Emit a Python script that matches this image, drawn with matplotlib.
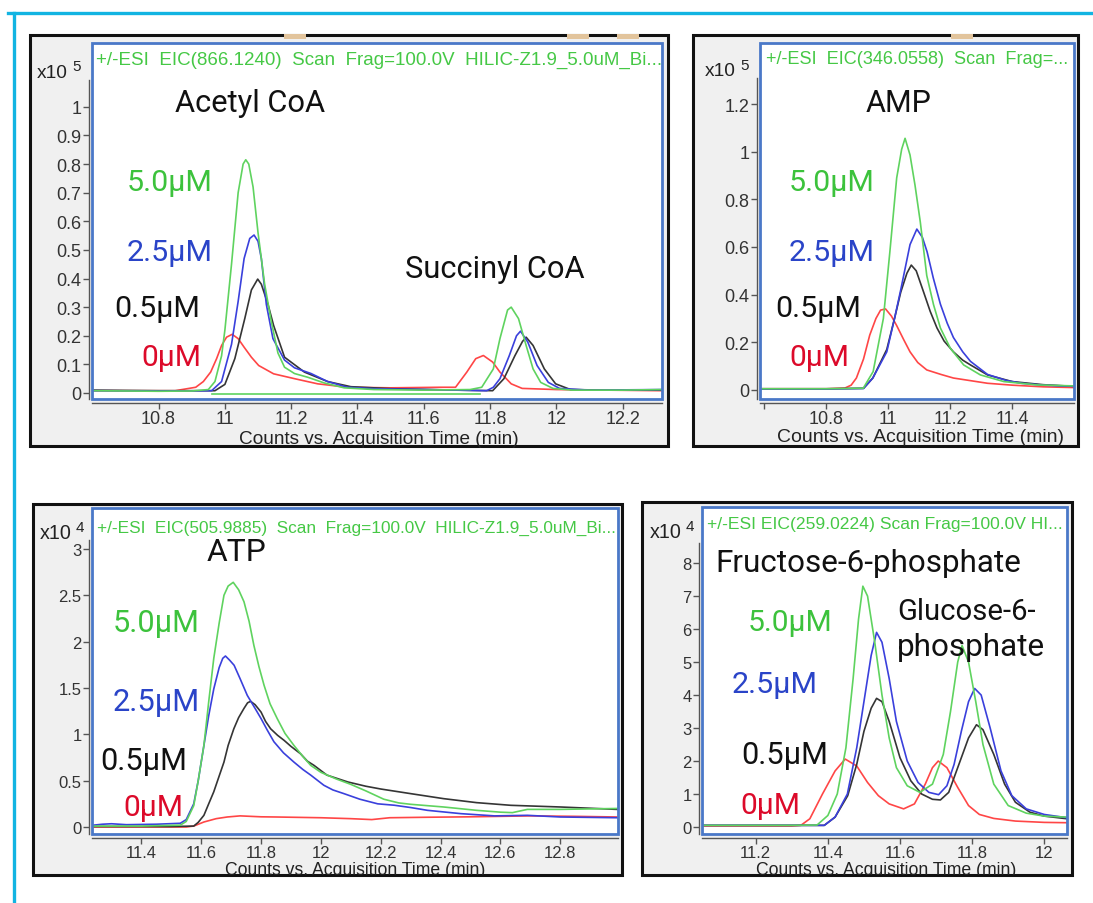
import matplotlib
matplotlib.use("Agg")
import matplotlib.pyplot as plt
from matplotlib.patches import Rectangle
from matplotlib.lines import Line2D
from matplotlib import font_manager

# ------------------------------------------------------------------ data
# Panel 1 : Acetyl CoA / Succinyl CoA  (counts x10^5 vs. time, min)
p1_green_t = [10.60, 10.80, 10.90, 10.95, 10.97, 10.99, 11.00, 11.02, 11.04, 11.055,
              11.063, 11.072, 11.085, 11.10, 11.12, 11.14, 11.16, 11.18, 11.21, 11.25,
              11.30, 11.36, 11.45, 11.60, 11.74, 11.775, 11.81, 11.83, 11.853, 11.864,
              11.886, 11.909, 11.93, 11.953, 11.99, 12.05, 12.20, 12.32]
p1_green_v = [0.008, 0.006, 0.007, 0.012, 0.04, 0.13, 0.22, 0.45, 0.70, 0.80,
              0.815, 0.80, 0.72, 0.56, 0.38, 0.25, 0.14, 0.09, 0.068, 0.055,
              0.035, 0.018, 0.012, 0.010, 0.012, 0.02, 0.084, 0.19, 0.29, 0.30,
              0.26, 0.166, 0.084, 0.037, 0.016, 0.010, 0.010, 0.012]
p1_green_flat_t = [10.96, 11.77]
p1_green_flat_v = [-0.003, -0.003]
p1_blue_t = [10.60, 10.80, 10.96, 10.99, 11.02, 11.04, 11.058, 11.075, 11.088, 11.10,
             11.11, 11.125, 11.145, 11.18, 11.21, 11.26, 11.31, 11.37, 11.45, 11.60,
             11.79, 11.81, 11.83, 11.858, 11.88, 11.892, 11.914, 11.942, 11.976, 12.01,
             12.10, 12.32]
p1_blue_v = [0.008, 0.007, 0.008, 0.04, 0.17, 0.32, 0.47, 0.54, 0.552, 0.53,
             0.47, 0.31, 0.19, 0.115, 0.088, 0.068, 0.04, 0.02, 0.015, 0.012,
             0.008, 0.02, 0.05, 0.13, 0.20, 0.216, 0.178, 0.096, 0.037, 0.016,
             0.010, 0.012]
p1_black_t = [10.60, 10.80, 10.97, 11.00, 11.03, 11.06, 11.08, 11.099, 11.11, 11.13,
              11.147, 11.18, 11.24, 11.31, 11.38, 11.50, 11.70, 11.808, 11.842, 11.875,
              11.898, 11.909, 11.93, 11.964, 11.998, 12.043, 12.15, 12.32]
p1_black_v = [0.010, 0.008, 0.008, 0.03, 0.12, 0.26, 0.36, 0.398, 0.38, 0.31,
              0.236, 0.125, 0.073, 0.04, 0.022, 0.015, 0.010, 0.008, 0.05, 0.13,
              0.18, 0.195, 0.166, 0.084, 0.032, 0.012, 0.010, 0.010]
p1_red_t = [10.60, 10.85, 10.912, 10.935, 10.957, 10.975, 10.99, 11.005, 11.022, 11.04,
            11.058, 11.08, 11.102, 11.147, 11.214, 11.28, 11.37, 11.50, 11.65, 11.696,
            11.73, 11.757, 11.78, 11.808, 11.83, 11.864, 11.897, 12.00, 12.15, 12.32]
p1_red_v = [0.008, 0.008, 0.02, 0.04, 0.073, 0.12, 0.166, 0.195, 0.205, 0.19,
            0.16, 0.125, 0.096, 0.067, 0.049, 0.032, 0.02, 0.018, 0.02, 0.02,
            0.073, 0.12, 0.131, 0.108, 0.073, 0.032, 0.016, 0.012, 0.010, 0.008]
p1_xticks = [10.8, 11.0, 11.2, 11.4, 11.6, 11.8, 12.0, 12.2]
p1_yticks = [0, 0.1, 0.2, 0.3, 0.4, 0.5, 0.6, 0.7, 0.8, 0.9, 1.0]

# Panel 2 : AMP (counts x10^5)
p2_green_t = [10.586, 10.80, 10.919, 10.951, 10.984, 11.005, 11.027, 11.043, 11.054, 11.07,
              11.086, 11.103, 11.124, 11.146, 11.168, 11.20, 11.243, 11.297, 11.373, 11.48,
              11.599]
p2_green_v = [0.005, 0.005, 0.007, 0.077, 0.30, 0.58, 0.89, 1.01, 1.056, 0.986,
              0.86, 0.706, 0.48, 0.357, 0.26, 0.175, 0.105, 0.063, 0.035, 0.021,
              0.017]
p2_blue_t = [10.586, 10.80, 10.92, 10.95, 10.995, 11.02, 11.04, 11.07, 11.092, 11.11,
             11.125, 11.145, 11.168, 11.19, 11.21, 11.24, 11.265, 11.32, 11.38, 11.43,
             11.50, 11.599]
p2_blue_v = [0.004, 0.004, 0.006, 0.05, 0.16, 0.30, 0.42, 0.61, 0.675, 0.64,
             0.58, 0.47, 0.36, 0.28, 0.22, 0.16, 0.12, 0.065, 0.04, 0.028,
             0.02, 0.015]
p2_black_t = [10.586, 10.80, 10.92, 10.95, 10.995, 11.02, 11.04, 11.06, 11.074, 11.09,
              11.114, 11.135, 11.157, 11.18, 11.21, 11.24, 11.265, 11.32, 11.40, 11.50,
              11.599]
p2_black_v = [0.005, 0.005, 0.007, 0.05, 0.17, 0.30, 0.41, 0.49, 0.524, 0.50,
              0.41, 0.33, 0.26, 0.205, 0.16, 0.125, 0.105, 0.063, 0.035, 0.022,
              0.015]
p2_red_t = [10.586, 10.80, 10.86, 10.88, 10.897, 10.92, 10.94, 10.96, 10.975, 10.991,
            11.01, 11.027, 11.05, 11.07, 11.095, 11.124, 11.17, 11.21, 11.26, 11.32,
            11.40, 11.50, 11.599]
p2_red_v = [0.005, 0.005, 0.008, 0.02, 0.05, 0.13, 0.23, 0.30, 0.335, 0.34,
            0.31, 0.27, 0.21, 0.16, 0.115, 0.084, 0.065, 0.05, 0.04, 0.028,
            0.02, 0.013, 0.010]
p2_xticks = [10.6, 10.8, 11.0, 11.2, 11.4]
p2_xticklabels = ["", "10.8", "11", "11.2", "11.4"]
p2_yticks = [0, 0.2, 0.4, 0.6, 0.8, 1.0, 1.2]

# Panel 3 : ATP (counts x10^4)
p3_green_t = [11.24, 11.40, 11.53, 11.55, 11.575, 11.59, 11.609, 11.625, 11.642, 11.66,
              11.676, 11.69, 11.707, 11.725, 11.743, 11.76, 11.776, 11.793, 11.81, 11.83,
              11.854, 11.88, 11.91, 11.94, 11.966, 12.00, 12.05, 12.10, 12.15, 12.21,
              12.26, 12.30, 12.41, 12.52, 12.60, 12.64, 12.69, 12.80, 12.99]
p3_green_v = [0.01, 0.01, 0.02, 0.06, 0.23, 0.50, 0.88, 1.35, 1.82, 2.20,
              2.50, 2.60, 2.64, 2.56, 2.43, 2.22, 1.96, 1.73, 1.53, 1.33,
              1.17, 1.01, 0.88, 0.76, 0.665, 0.59, 0.52, 0.46, 0.39, 0.30,
              0.26, 0.245, 0.216, 0.18, 0.16, 0.155, 0.19, 0.19, 0.20]
p3_blue_t = [11.24, 11.27, 11.30, 11.35, 11.45, 11.53, 11.55, 11.575, 11.59, 11.609,
             11.625, 11.642, 11.66, 11.672, 11.681, 11.695, 11.71, 11.73, 11.754, 11.78,
             11.80, 11.82, 11.843, 11.875, 11.91, 11.94, 11.966, 12.01, 12.04, 12.077,
             12.13, 12.19, 12.245, 12.30, 12.356, 12.468, 12.58, 12.69, 12.80, 12.99]
p3_blue_v = [0.02, 0.03, 0.035, 0.025, 0.03, 0.04, 0.08, 0.25, 0.50, 0.88,
             1.20, 1.49, 1.72, 1.82, 1.845, 1.80, 1.745, 1.60, 1.42, 1.28,
             1.17, 1.05, 0.92, 0.80, 0.70, 0.62, 0.56, 0.45, 0.40, 0.36,
             0.30, 0.25, 0.235, 0.21, 0.18, 0.144, 0.12, 0.126, 0.108, 0.10]
p3_black_t = [11.24, 11.50, 11.575, 11.59, 11.609, 11.625, 11.642, 11.66, 11.676, 11.69,
              11.709, 11.725, 11.743, 11.755, 11.765, 11.78, 11.80, 11.815, 11.832, 11.855,
              11.877, 11.90, 11.932, 11.955, 11.977, 12.02, 12.09, 12.15, 12.20, 12.30,
              12.41, 12.52, 12.635, 12.80, 12.99]
p3_black_v = [0.005, 0.005, 0.01, 0.05, 0.126, 0.25, 0.38, 0.55, 0.70, 0.88,
              1.06, 1.18, 1.28, 1.34, 1.356, 1.32, 1.24, 1.14, 1.06, 0.99,
              0.935, 0.87, 0.79, 0.71, 0.665, 0.56, 0.486, 0.44, 0.41, 0.36,
              0.306, 0.263, 0.234, 0.216, 0.19]
p3_red_t = [11.24, 11.55, 11.575, 11.609, 11.65, 11.687, 11.73, 11.80, 11.85, 12.00,
            12.10, 12.17, 12.23, 12.35, 12.50, 12.70, 12.85, 12.99]
p3_red_v = [0.0, 0.0, 0.01, 0.054, 0.09, 0.108, 0.12, 0.11, 0.108, 0.10,
            0.09, 0.08, 0.10, 0.105, 0.11, 0.12, 0.115, 0.108]
p3_xticks = [11.4, 11.6, 11.8, 12.0, 12.2, 12.4, 12.6, 12.8]
p3_yticks = [0, 0.5, 1.0, 1.5, 2.0, 2.5, 3.0]

# Panel 4 : Fructose-6-phosphate / Glucose-6-phosphate (counts x10^4)
p4_green_t = [11.05, 11.30, 11.37, 11.40, 11.426, 11.45, 11.47, 11.485, 11.497, 11.51,
              11.53, 11.55, 11.57, 11.59, 11.62, 11.655, 11.69, 11.72, 11.74, 11.76,
              11.772, 11.79, 11.81, 11.83, 11.86, 11.90, 11.95, 12.00, 12.063]
p4_green_v = [0.05, 0.05, 0.06, 0.35, 1.0, 2.4, 4.5, 6.3, 7.3, 7.0,
              5.6, 4.0, 2.7, 1.8, 1.25, 1.05, 1.3, 2.2, 3.5, 5.0,
              5.5, 5.0, 3.8, 2.5, 1.3, 0.65, 0.42, 0.33, 0.30]
p4_blue_t = [11.05, 11.39, 11.42, 11.454, 11.48, 11.50, 11.52, 11.535, 11.55, 11.57,
             11.59, 11.62, 11.65, 11.68, 11.707, 11.73, 11.75, 11.77, 11.79, 11.807,
             11.825, 11.85, 11.88, 11.91, 11.95, 12.00, 12.063]
p4_blue_v = [0.05, 0.05, 0.3, 1.0, 2.4, 3.8, 5.2, 5.9, 5.6, 4.5,
             3.2, 2.0, 1.35, 1.05, 0.98, 1.25, 1.9, 2.9, 3.8, 4.2,
             4.0, 3.0, 1.7, 0.95, 0.55, 0.38, 0.28]
p4_black_t = [11.05, 11.39, 11.42, 11.455, 11.48, 11.50, 11.52, 11.535, 11.55, 11.57,
              11.60, 11.63, 11.66, 11.69, 11.712, 11.735, 11.76, 11.79, 11.812, 11.83,
              11.86, 11.89, 11.92, 11.96, 12.00, 12.063]
p4_black_v = [0.05, 0.05, 0.3, 0.95, 1.9, 2.9, 3.6, 3.9, 3.8, 3.2,
              2.1, 1.4, 1.0, 0.84, 0.82, 1.05, 1.8, 2.7, 3.1, 2.95,
              2.2, 1.3, 0.75, 0.45, 0.33, 0.25]
p4_red_t = [11.05, 11.30, 11.325, 11.35, 11.385, 11.42, 11.448, 11.48, 11.51, 11.54,
            11.57, 11.61, 11.64, 11.67, 11.69, 11.706, 11.73, 11.76, 11.79, 11.82,
            11.86, 11.92, 12.00, 12.063]
p4_red_v = [0.03, 0.03, 0.05, 0.25, 1.0, 1.7, 2.06, 1.85, 1.35, 0.95,
            0.7, 0.55, 0.7, 1.3, 1.8, 2.0, 1.8, 1.2, 0.65, 0.38,
            0.26, 0.18, 0.14, 0.13]
p4_xticks = [11.2, 11.4, 11.6, 11.8, 12.0]
p4_yticks = [0, 1, 2, 3, 4, 5, 6, 7, 8]

conc_labels = ["5.0μM", "2.5μM", "0.5μM", "0μM"]

# ------------------------------------------------------------------ style
W, H = 1093, 904
_installed = {f.name for f in font_manager.fontManager.ttflist}
NARROW = "Liberation Sans Narrow" in _installed
TICKFAM = ["Liberation Sans Narrow", "Liberation Sans", "DejaVu Sans"] if NARROW else ["Liberation Sans", "DejaVu Sans"]
plt.rcParams["font.family"] = TICKFAM
LINE = {"green": "#5fd35f", "blue": "#3a40dc", "black": "#353535", "red": "#ff4646"}
TXT = {"green": "#3cc23c", "blue": "#2a44c8", "black": "#111111", "red": "#dc0a2a"}
HEAD = "#45c845"
BOXBLUE = "#4a78c8"
AXC = "#555555"

fig = plt.figure(figsize=(W / 100, H / 100), dpi=100)
fig.patch.set_facecolor("white")
R = fig.canvas.get_renderer()

# cyan slide frame
fig.add_artist(Line2D([8 / W, 1.0], [1 - 14 / H, 1 - 14 / H], transform=fig.transFigure,
                      color="#12b4e2", lw=2.4, zorder=-5))
fig.add_artist(Line2D([14 / W, 14 / W], [1 - 14 / H, 0.0], transform=fig.transFigure,
                      color="#12b4e2", lw=2.4, zorder=-5))


def fit_text(s, x0, x1, yc, color, family, ref=20.0, clip=None):
    t = fig.text(x0 / W, 1 - yc / H, s, color=color, family=family, fontsize=ref,
                 ha="left", va="center")
    w = t.get_window_extent(renderer=R).width
    t.set_fontsize(ref * (x1 - x0) / w)
    if clip is not None:
        t.set_clip_path(clip)
    return t


def center_text(s, xc, width, yc, color, family, clip=None):
    return fit_text(s, xc - width / 2, xc + width / 2, yc, color, family, clip=clip)


def panel(frame, box, xlim, ylim, xticks, xticklabels, yticks, yspine_top, ticksize, pad):
    l, t, r, b = frame
    rect = Rectangle((l / W, 1 - b / H), (r - l) / W, (b - t) / H, transform=fig.transFigure,
                     facecolor="#f0f0f0", edgecolor="#111111", lw=2.2, zorder=-3)
    fig.patches.append(rect)
    bl, bt, br, bb = box
    ax = fig.add_axes([bl / W, 1 - bb / H, (br - bl) / W, (bb - bt) / H])
    ax.set_facecolor("white")
    ax.set_xlim(*xlim)
    ax.set_ylim(*ylim)
    ax.set_xticks(xticks)
    ax.set_xticklabels(xticklabels)
    ax.set_yticks(yticks)
    ax.set_yticklabels([f"{v:g}" for v in yticks])
    for s in ("top", "right"):
        ax.spines[s].set_visible(False)
    ax.spines["left"].set_position(("outward", 2))
    ax.spines["bottom"].set_position(("outward", 3))
    ax.spines["left"].set_bounds(ylim[0], yspine_top)
    for s in ("left", "bottom"):
        ax.spines[s].set_color(AXC)
        ax.spines[s].set_linewidth(1.0)
    ax.tick_params(direction="out", length=4.5, width=1.0, color=AXC,
                   labelcolor="#333333", labelsize=ticksize, pad=1.0)
    ax.tick_params(axis="x", pad=pad)
    ax.add_patch(Rectangle((0, 0), 1, 1, transform=ax.transAxes, fill=False,
                           edgecolor=BOXBLUE, lw=2.0, clip_on=False, zorder=6))
    return ax, rect


def draw_series(ax, series):
    for t, v, c in series:
        ax.plot(t, v, color=LINE[c], lw=1.2, solid_joinstyle="round")


TS_BIG = 14.5 if NARROW else 13
TS_SMALL = 13.5 if NARROW else 12

# ---------------- panel 1
ax1, fr1 = panel((30, 36, 668, 447), (92, 44, 662, 400), (10.599, 12.319), (-0.021, 1.223),
                 p1_xticks, [f"{v:g}" for v in p1_xticks], p1_yticks, 1.094, TS_BIG, 0.5)
draw_series(ax1, [(p1_green_flat_t, p1_green_flat_v, "green"),
                  (p1_red_t, p1_red_v, "red"), (p1_black_t, p1_black_v, "black"),
                  (p1_blue_t, p1_blue_v, "blue"), (p1_green_t, p1_green_v, "green")])

# ---------------- panel 2
ax2, fr2 = panel((693, 36, 1078, 447), (760, 44, 1074, 400), (10.586, 11.599), (-0.038, 1.456),
                 p2_xticks, p2_xticklabels, p2_yticks, 1.309, TS_BIG, 0.2)
draw_series(ax2, [(p2_red_t, p2_red_v, "red"), (p2_black_t, p2_black_v, "black"),
                  (p2_blue_t, p2_blue_v, "blue"), (p2_green_t, p2_green_v, "green")])

# ---------------- panel 3
ax3, fr3 = panel((33, 505, 622, 876), (92, 509, 618, 835), (11.235, 12.993), (-0.0755, 3.442),
                 p3_xticks, [f"{v:g}" for v in p3_xticks], p3_yticks, 3.10, TS_SMALL, 0.2)
draw_series(ax3, [(p3_red_t, p3_red_v, "red"), (p3_black_t, p3_black_v, "black"),
                  (p3_blue_t, p3_blue_v, "blue"), (p3_green_t, p3_green_v, "green")])

# ---------------- panel 4
ax4, fr4 = panel((642, 503, 1072, 876), (702, 508, 1067, 835), (11.051, 12.063), (-0.212, 9.70),
                 p4_xticks, [f"{v:g}" for v in p4_xticks], p4_yticks, 8.6, TS_SMALL, 0.2)
draw_series(ax4, [(p4_red_t, p4_red_v, "red"), (p4_black_t, p4_black_v, "black"),
                  (p4_blue_t, p4_blue_v, "blue"), (p4_green_t, p4_green_v, "green")])

# small tab markers on top of the upper frames
for xc in (295, 578, 628, 962):
    fig.patches.append(Rectangle(((xc - 11) / W, 1 - 40 / H), 22 / W, 5 / H,
                                 transform=fig.transFigure, facecolor="#e2c49c",
                                 edgecolor="none", zorder=-2))

# ---------------- header lines (green instrument text)
SANS = ["Liberation Sans", "DejaVu Sans"]
fit_text("+/-ESI  EIC(866.1240)  Scan  Frag=100.0V  HILIC-Z1.9_5.0uM_Bi...", 96, 660, 60, HEAD, SANS)
fit_text("+/-ESI  EIC(346.0558)  Scan  Frag=...", 766, 1070, 60, HEAD, SANS)
fit_text("+/-ESI  EIC(505.9885)  Scan  Frag=100.0V  HILIC-Z1.9_5.0uM_Bi...", 97, 615, 528, HEAD, SANS)
fit_text("+/-ESI EIC(259.0224) Scan Frag=100.0V HI...", 707, 1062, 524, HEAD, SANS)

# ---------------- y multipliers
for (x0, x1, yc, exp) in [(37, 68, 73, "5"), (705, 736, 72, "5"), (40, 72, 534, "4"), (650, 682, 533, "4")]:
    fit_text("x10", x0, x1, yc, "#222222", TICKFAM)
    fig.text((x1 + 4) / W, 1 - (yc - 6) / H, exp, color="#222222", family=TICKFAM,
             fontsize=11, ha="left", va="center")

# ---------------- x axis titles
XT = "Counts vs. Acquisition Time (min)"
center_text(XT, 379, 280, 439, "#222222", TICKFAM)
center_text(XT, 920, 286, 438, "#222222", TICKFAM)
center_text(XT, 355, 260, 871, "#222222", TICKFAM, clip=fr3)
center_text(XT, 887, 261, 871, "#222222", TICKFAM, clip=fr4)

# ---------------- compound names and concentration labels
LAB = ["Roboto", "DejaVu Sans"]
fit_text("Acetyl CoA", 175, 325, 104, TXT["black"], LAB)
fit_text("Succinyl CoA", 405, 585, 270, TXT["black"], LAB)
fit_text("AMP", 866, 932, 103, TXT["black"], LAB)
fit_text("ATP", 207, 267, 553, TXT["black"], LAB)
fit_text("Fructose-6-phosphate", 715, 1020, 563, TXT["black"], LAB)
fit_text("Glucose-6-", 897, 1035, 612, TXT["black"], LAB)
fit_text("phosphate", 897, 1045, 648, TXT["black"], LAB)

conc_pos = {
    1: [(127, 213, 183), (127, 213, 253), (114, 200, 309), (141, 201, 358)],
    2: [(789, 875, 183), (789, 875, 253), (775, 861, 309), (789, 849, 358)],
    3: [(113, 200, 624), (113, 200, 703), (100, 187, 762), (123, 183, 808)],
    4: [(748, 833, 623), (732, 818, 685), (741, 828, 755), (740, 800, 806)],
}
conc_cols = ["green", "blue", "black", "red"]
for p, poss in conc_pos.items():
    for lab, col, (x0, x1, yc) in zip(conc_labels, conc_cols, poss):
        fit_text(lab, x0, x1, yc, TXT[col], LAB)

fig.savefig("out.png", dpi=100)
